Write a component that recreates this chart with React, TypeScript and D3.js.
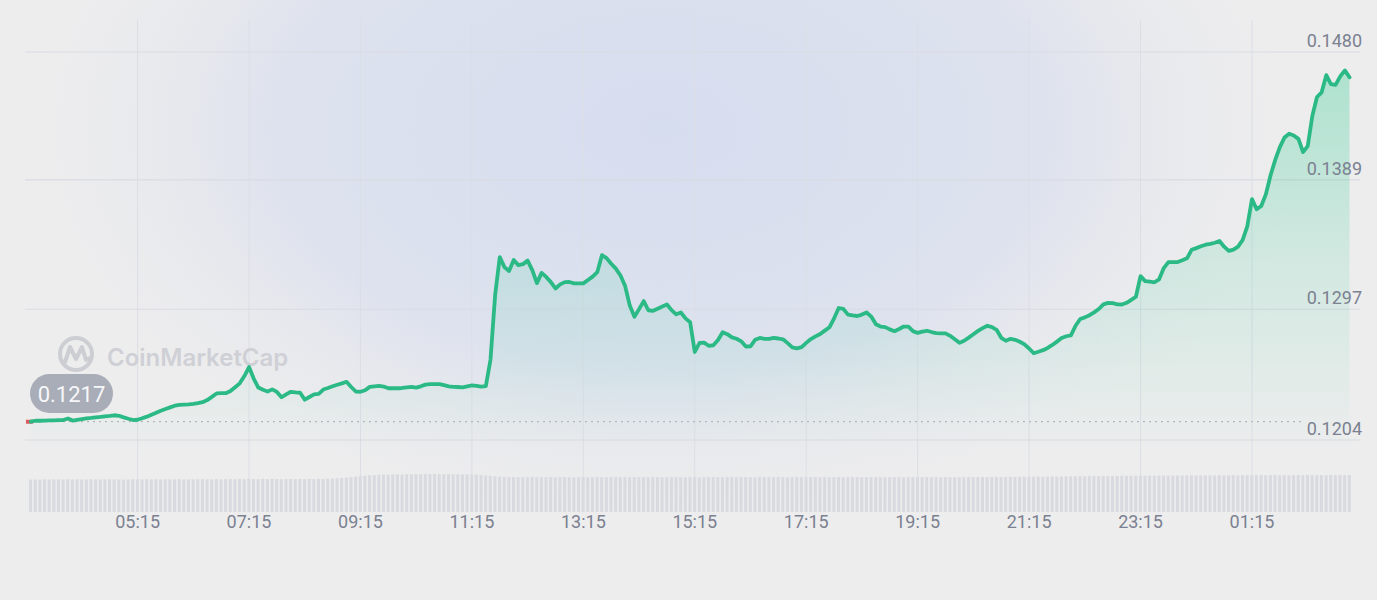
import * as d3 from 'd3';
import { useEffect, useRef } from 'react';

const WIDTH = 1377;
const HEIGHT = 600;

// 5-minute samples starting at 03:20
const START_TIME = '2024-01-01T03:20:00';
const STEP_MINUTES = 5;

const prices = [
  0.1217, 0.12177, 0.12177, 0.12178, 0.12179, 0.1218, 0.12181, 0.12182, 0.12193, 0.12178, 0.12184, 0.12189, 0.12194, 0.12197, 0.12201,
  0.12204, 0.12208, 0.12211, 0.12216, 0.12212, 0.12201, 0.12191, 0.12182, 0.12184, 0.12195, 0.12206, 0.1222, 0.12234, 0.12248, 0.1226,
  0.12272, 0.12284, 0.1229, 0.12292, 0.12294, 0.12297, 0.12302, 0.12309, 0.12324, 0.12347, 0.12371, 0.12373, 0.12373, 0.12388, 0.12415,
  0.12443, 0.12495, 0.12559, 0.12477, 0.12413, 0.12397, 0.12385, 0.124, 0.12382, 0.12344, 0.12365, 0.12383, 0.12379, 0.12376, 0.12327,
  0.12346, 0.12364, 0.12368, 0.12399, 0.1241, 0.12422, 0.12433, 0.12443, 0.12454, 0.12417, 0.12385, 0.12383, 0.12394, 0.12418, 0.12422,
  0.12425, 0.1242, 0.12408, 0.12408, 0.12408, 0.1241, 0.12415, 0.12418, 0.12413, 0.12422, 0.12434, 0.12437, 0.12437, 0.12438, 0.1243,
  0.12422, 0.12418, 0.12417, 0.12415, 0.12422, 0.12429, 0.12425, 0.1242, 0.12423, 0.12611, 0.13071, 0.13341, 0.1327, 0.13242, 0.1332,
  0.13284, 0.13291, 0.13316, 0.13249, 0.13156, 0.13229, 0.132, 0.13163, 0.13118, 0.13147, 0.13163, 0.13164, 0.13154, 0.13154, 0.13154,
  0.13178, 0.13202, 0.13234, 0.13355, 0.13334, 0.13294, 0.13259, 0.1321, 0.13135, 0.12996, 0.12917, 0.12971, 0.13028, 0.12963, 0.12959,
  0.12974, 0.12989, 0.13004, 0.12964, 0.12934, 0.12947, 0.12905, 0.12878, 0.12666, 0.1273, 0.12733, 0.1271, 0.12714, 0.12751, 0.12807,
  0.12793, 0.1277, 0.1276, 0.12742, 0.12705, 0.12706, 0.12753, 0.12766, 0.1276, 0.1276, 0.12767, 0.12762, 0.12756, 0.12729, 0.12699,
  0.12692, 0.12701, 0.12731, 0.12758, 0.12777, 0.12794, 0.12818, 0.12842, 0.12906, 0.12979, 0.12972, 0.12932, 0.12926, 0.12922, 0.12932,
  0.12947, 0.12918, 0.12863, 0.12847, 0.12843, 0.12827, 0.12814, 0.1283, 0.12847, 0.12847, 0.12814, 0.12802, 0.12811, 0.12817, 0.12808,
  0.128, 0.12799, 0.12799, 0.12781, 0.12756, 0.12731, 0.12746, 0.12768, 0.12792, 0.12816, 0.12836, 0.12853, 0.12843, 0.12824, 0.12767,
  0.12746, 0.1276, 0.12753, 0.12739, 0.1272, 0.12691, 0.12657, 0.12668, 0.12679, 0.12695, 0.12716, 0.1274, 0.12765, 0.12778, 0.12784,
  0.12853, 0.12901, 0.12912, 0.12928, 0.12948, 0.12972, 0.13005, 0.13015, 0.13013, 0.13005, 0.13004, 0.13016, 0.13037, 0.13059, 0.13206,
  0.1317, 0.13166, 0.13162, 0.13183, 0.13263, 0.13305, 0.13306, 0.13306, 0.13318, 0.13332, 0.13393, 0.13405, 0.13418, 0.13429, 0.13435,
  0.13443, 0.13456, 0.13415, 0.13385, 0.13394, 0.13416, 0.13463, 0.13562, 0.13754, 0.13682, 0.13705, 0.13789, 0.13923, 0.14032, 0.14123,
  0.14192, 0.14219, 0.14206, 0.14182, 0.14088, 0.1413, 0.14346, 0.1448, 0.14513, 0.14635, 0.14571, 0.14566, 0.14627, 0.14669, 0.1462,
];

// volume bars, millions
const volumes = [
  85.2, 85.6, 85.1, 85.8, 85.4, 85.9, 85.3, 85.7, 86.0, 85.5, 85.8, 85.2, 85.6, 86.1, 85.7,
  85.4, 85.9, 86.2, 85.6, 85.8, 85.3, 85.7, 86.0, 85.5, 85.9, 86.3, 85.8, 86.1, 85.6, 86.0,
  86.2, 85.7, 86.4, 86.0, 85.8, 86.3, 86.1, 86.5, 85.9, 86.2, 86.6, 86.0, 86.4, 86.8, 86.3,
  87.0, 86.5, 87.2, 86.8, 86.4, 86.9, 86.6, 87.1, 86.7, 86.3, 86.8, 87.0, 86.5, 86.9, 86.6,
  87.2, 86.8, 87.4, 87.0, 87.6, 87.9, 88.5, 89.6, 90.8, 92.0, 93.4, 94.5, 95.6, 96.5, 97.2,
  97.8, 98.4, 98.1, 98.9, 99.2, 98.7, 99.5, 99.0, 99.6, 99.3, 99.8, 99.4, 100.0, 99.6, 99.2,
  99.7, 99.1, 99.5, 98.9, 99.3, 98.6, 98.2, 97.4, 96.3, 95.0, 93.8, 92.9, 92.4, 92.1, 91.8,
  92.0, 91.6, 91.9, 92.2, 91.7, 91.5, 92.0, 91.8, 91.4, 91.9, 92.1, 91.6, 91.3, 91.8, 92.0,
  91.5, 91.7, 92.2, 91.9, 91.4, 91.6, 92.0, 91.8, 91.3, 91.7, 92.1, 91.6, 91.9, 91.4, 91.8,
  92.0, 91.5, 91.7, 92.1, 91.8, 91.4, 91.6, 92.0, 91.7, 91.3, 91.8, 92.2, 91.6, 91.9, 91.5,
  91.7, 92.0, 91.4, 91.8, 92.1, 91.6, 91.3, 91.9, 92.0, 91.5, 91.7, 92.2, 91.8, 91.4, 91.6,
  92.0, 91.7, 91.3, 91.8, 92.1, 91.6, 91.9, 91.5, 91.7, 92.0, 91.4, 91.8, 92.2, 91.6, 91.9,
  91.5, 91.7, 92.0, 91.8, 91.3, 91.6, 92.1, 91.9, 91.4, 91.7, 92.0, 91.5, 91.8, 92.2, 91.6,
  91.9, 91.4, 91.7, 92.0, 91.8, 91.5, 91.9, 92.3, 91.7, 92.0, 92.4, 91.9, 92.2, 92.6, 92.1,
  92.5, 92.8, 92.3, 92.7, 93.0, 92.6, 93.1, 93.4, 92.9, 93.3, 93.7, 93.2, 93.6, 94.0, 93.5,
  94.0, 94.3, 93.9, 94.4, 94.7, 94.2, 94.8, 95.1, 94.6, 95.0, 95.4, 94.9, 95.3, 95.7, 95.2,
  95.6, 95.9, 95.4, 95.8, 96.1, 95.7, 96.0, 96.3, 95.8, 96.2, 96.5, 96.0, 96.4, 96.7, 96.2,
  96.5, 96.8, 96.3, 96.6, 96.9, 96.4, 96.7, 97.0, 96.5, 96.8, 97.1, 96.6, 96.9, 97.2, 96.7,
  97.0, 96.6, 96.9, 97.2, 96.8, 97.1, 96.7, 97.0, 97.3, 96.9, 97.2, 96.8, 97.1, 96.9, 97.0,
];

const yTicks = [0.1204, 0.1297, 0.1389, 0.148];
const xTickLabels = ['05:15', '07:15', '09:15', '11:15', '13:15', '15:15', '17:15', '19:15', '21:15', '23:15', '01:15'];

const LINE_COLOR = '#2bba86';
const AXIS_TEXT = '#7b8190';
const FONT = 'Roboto, "Noto Sans", sans-serif';

export default function App() {
  const svgRef = useRef<SVGSVGElement>(null);

  useEffect(() => {
    const el = svgRef.current;
    if (!el) return;
    const svg = d3.select(el);
    svg.selectAll('*').remove();

    const t0 = new Date(START_TIME).getTime();
    const times = prices.map((_, i) => new Date(t0 + i * STEP_MINUTES * 60000));
    const data = prices.map((p, i) => ({ t: times[i], p, v: volumes[i] }));

    const x = d3
      .scaleTime()
      .domain(d3.extent(times) as [Date, Date])
      .range([30.8, 1349.5]);
    const y = d3.scaleLinear().domain([0.1204, 0.148]).range([440, 52]);
    const yVol = d3
      .scaleLinear()
      .domain([0, d3.max(volumes) ?? 1])
      .range([512, 474]);

    // tick label -> date (after midnight rolls into next day)
    const tickDates = xTickLabels.map((s) => {
      const [h, m] = s.split(':').map(Number);
      const d = new Date(START_TIME);
      if (h < 3) d.setDate(d.getDate() + 1);
      d.setHours(h, m, 0, 0);
      return d;
    });

    const defs = svg.append('defs');
    const bg = defs
      .append('radialGradient')
      .attr('id', 'bgGlow')
      .attr('gradientUnits', 'userSpaceOnUse')
      .attr('cx', 660)
      .attr('cy', 130)
      .attr('r', 640)
      .attr('gradientTransform', 'translate(660 130) scale(1 0.62) translate(-660 -130)');
    bg.append('stop').attr('offset', 0).attr('stop-color', '#d6ddef').attr('stop-opacity', 1);
    bg.append('stop').attr('offset', 0.6).attr('stop-color', '#dbe0ee').attr('stop-opacity', 0.85);
    bg.append('stop').attr('offset', 1).attr('stop-color', '#e9e9eb').attr('stop-opacity', 0);

    const areaGrad = defs
      .append('linearGradient')
      .attr('id', 'areaGrad')
      .attr('gradientUnits', 'userSpaceOnUse')
      .attr('x1', 0)
      .attr('x2', 0)
      .attr('y1', 60)
      .attr('y2', 455);
    areaGrad.append('stop').attr('offset', 0).attr('stop-color', '#16c784').attr('stop-opacity', 0.3);
    areaGrad.append('stop').attr('offset', 0.5).attr('stop-color', '#16c784').attr('stop-opacity', 0.13);
    areaGrad.append('stop').attr('offset', 1).attr('stop-color', '#16c784').attr('stop-opacity', 0);

    svg.append('rect').attr('width', WIDTH).attr('height', HEIGHT).attr('fill', '#ededee');
    svg.append('rect').attr('width', WIDTH).attr('height', HEIGHT).attr('fill', 'url(#bgGlow)');

    // vertical grid
    svg
      .append('g')
      .selectAll('line')
      .data(tickDates)
      .join('line')
      .attr('x1', (d) => x(d))
      .attr('x2', (d) => x(d))
      .attr('y1', 20)
      .attr('y2', 512)
      .attr('stroke', '#dcdee5')
      .attr('stroke-width', 1);

    // horizontal grid
    svg
      .append('g')
      .selectAll('line')
      .data(yTicks)
      .join('line')
      .attr('x1', 25)
      .attr('x2', 1360)
      .attr('y1', (d) => y(d))
      .attr('y2', (d) => y(d))
      .attr('stroke', '#d9dbe2')
      .attr('stroke-width', 1.2);

    // volume bars
    const step = x(times[1]) - x(times[0]);
    svg
      .append('g')
      .selectAll('rect')
      .data(data)
      .join('rect')
      .attr('x', (d) => x(d.t) - step / 2 + 0.6)
      .attr('width', step - 1.6)
      .attr('y', (d) => yVol(d.v))
      .attr('height', (d) => 512 - yVol(d.v))
      .attr('fill', '#d9dae0');

    // watermark
    const wm = svg.append('g');
    wm.append('circle')
      .attr('cx', 76)
      .attr('cy', 354)
      .attr('r', 16)
      .attr('fill', 'none')
      .attr('stroke', '#cdced3')
      .attr('stroke-width', 4);
    wm.append('path')
      .attr('d', 'M65,362 L70,347 L76,359 L82,347 L86,360 L90,358')
      .attr('fill', 'none')
      .attr('stroke', '#cdced3')
      .attr('stroke-width', 4)
      .attr('stroke-linejoin', 'round')
      .attr('stroke-linecap', 'round');
    wm.append('text')
      .attr('x', 107)
      .attr('y', 366)
      .attr('font-family', 'Inter, Roboto, sans-serif')
      .attr('font-size', 24)
      .attr('font-weight', 600)
      .attr('fill', '#cfd0d6')
      .text('CoinMarketCap');

    // area + line
    const area = d3
      .area<(typeof data)[number]>()
      .x((d) => x(d.t))
      .y0(455)
      .y1((d) => y(d.p));
    svg.append('path').datum(data).attr('d', area).attr('fill', 'url(#areaGrad)');

    // open price reference
    const open = prices[0];
    svg
      .append('line')
      .attr('x1', 33)
      .attr('x2', 1305)
      .attr('y1', y(open))
      .attr('y2', y(open))
      .attr('stroke', '#b3b6bf')
      .attr('stroke-width', 1.3)
      .attr('stroke-dasharray', '2 4');
    svg
      .append('rect')
      .attr('x', 26)
      .attr('y', y(open) - 2)
      .attr('width', 7)
      .attr('height', 4)
      .attr('fill', '#e0585c');

    const line = d3
      .line<(typeof data)[number]>()
      .x((d) => x(d.t))
      .y((d) => y(d.p));
    svg
      .append('path')
      .datum(data)
      .attr('d', line)
      .attr('fill', 'none')
      .attr('stroke', LINE_COLOR)
      .attr('stroke-width', 3.8)
      .attr('stroke-linejoin', 'round')
      .attr('stroke-linecap', 'round');

    // open price badge
    svg
      .append('rect')
      .attr('x', 30)
      .attr('y', 374)
      .attr('width', 83)
      .attr('height', 39)
      .attr('rx', 19.5)
      .attr('fill', '#a9adb8');
    svg
      .append('text')
      .attr('x', 71.5)
      .attr('y', 401.5)
      .attr('text-anchor', 'middle')
      .attr('font-family', FONT)
      .attr('font-size', 22)
      .attr('fill', '#f7f7f9')
      .text(open.toFixed(4));

    // y labels
    svg
      .append('g')
      .selectAll('text')
      .data(yTicks)
      .join('text')
      .attr('x', 1362)
      .attr('y', (d) => y(d) - 5)
      .attr('text-anchor', 'end')
      .attr('font-family', FONT)
      .attr('font-size', 18)
      .attr('fill', AXIS_TEXT)
      .text((d) => d.toFixed(4));

    // x labels
    svg
      .append('g')
      .selectAll('text')
      .data(tickDates)
      .join('text')
      .attr('x', (d) => x(d))
      .attr('y', 528)
      .attr('text-anchor', 'middle')
      .attr('font-family', FONT)
      .attr('font-size', 18)
      .attr('fill', AXIS_TEXT)
      .text((_, i) => xTickLabels[i]);

    return () => {
      svg.selectAll('*').remove();
    };
  }, []);

  return (
    <svg
      ref={svgRef}
      width={WIDTH}
      height={HEIGHT}
      style={{ position: 'absolute', left: 0, top: 0, display: 'block' }}
    />
  );
}
